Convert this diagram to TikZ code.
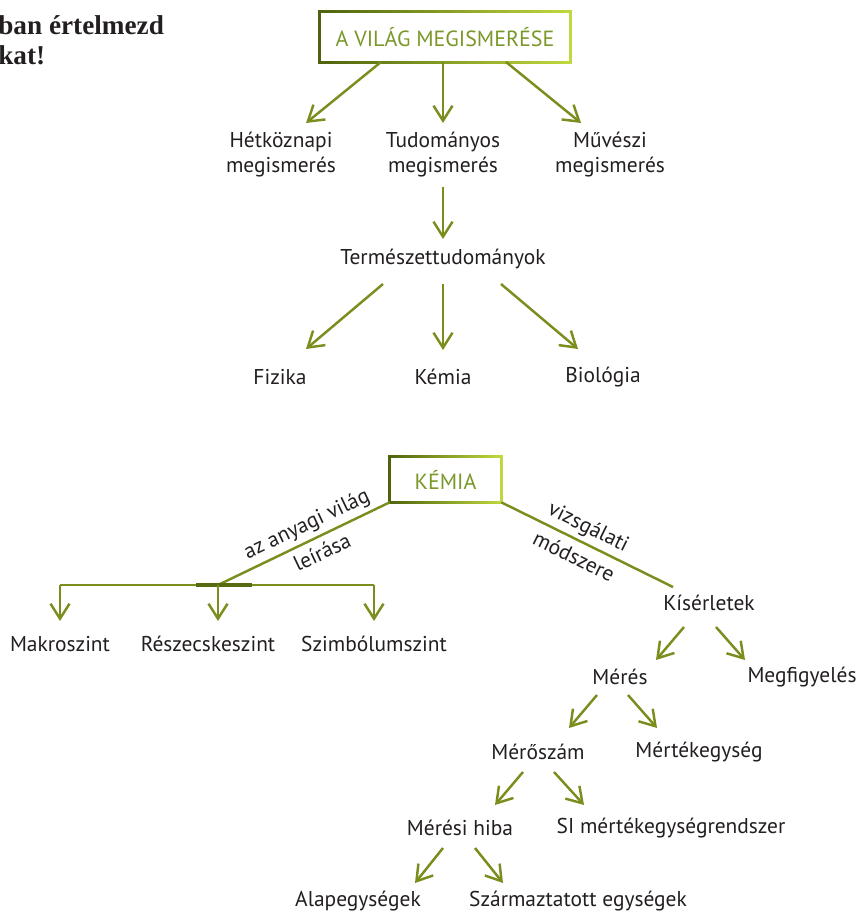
\documentclass[tikz,border=0pt]{standalone}
\usepackage{fontspec}
\setmainfont{PT Sans}
\newfontfamily\headfont{Liberation Serif}
\usetikzlibrary{arrows.meta,calc,backgrounds}
\definecolor{arrgreen}{RGB}{122,142,30}
\definecolor{boxtext}{RGB}{122,152,42}
\definecolor{gdark}{RGB}{78,98,12}
\definecolor{glight}{RGB}{192,218,62}
\definecolor{txt}{RGB}{35,31,32}
\tikzset{
  lbl/.style={font=\fontsize{12.2}{14.2}\selectfont, text=txt, align=center, inner sep=0pt},
  headbox/.style={font=\fontsize{12.5}{15}\selectfont, text=boxtext, inner sep=0pt},
  arr/.style={draw=arrgreen, line width=1.4pt, -{Straight Barb[length=3mm,width=3.8mm]}},
  bar/.style={draw=arrgreen, line width=1.4pt},
}
\begin{document}
\begin{tikzpicture}[x=0.02cm,y=-0.02cm]
    \useasboundingbox (0,0) rectangle (858,911);
    % heading text, cut at the left edge
    \node[anchor=west, align=left, inner sep=0pt, text=txt, font=\headfont\bfseries\fontsize{15.5}{17}\selectfont] (task) at (-2,40) {ban értelmezd\\kat!};
    % upper tree
    \node[headbox, minimum width=5cm, minimum height=1cm] (world) at (445,37) {A VILÁG MEGISMERÉSE};
    \node[lbl] (hetkoz) at (281,155) {Hétköznapi\\megismerés};
    \node[lbl] (tudom) at (443,155) {Tudományos\\megismerés};
    \node[lbl] (muv) at (610,155) {Művészi\\megismerés};
    \node[lbl] (termtud) at (443,259) {Természettudományok};
    \node[lbl] (fiz) at (280,377) {Fizika};
    \node[lbl] (kem) at (443,377) {Kémia};
    \node[lbl] (bio) at (603,377) {Biológia};
    \draw[arr] ($(world)+(-64,25)$) -- ($(hetkoz)+(25,-32)$);
    \draw[arr] ($(world)+(-2,25)$) -- ($(tudom)+(0,-32)$);
    \draw[arr] ($(world)+(61,25)$) -- ($(muv)+(-29,-32)$);
    \draw[arr] ($(tudom)+(0,32)$) -- ($(termtud)+(0,-20)$);
    \draw[arr] ($(termtud)+(-60,25)$) -- ($(fiz)+(26,-28)$);
    \draw[arr] ($(termtud)+(0,25)$) -- ($(kem)+(0,-27)$);
    \draw[arr] ($(termtud)+(58,25)$) -- ($(bio)+(-25,-28)$);
    % lower tree
    \node[headbox, minimum width=2.22cm, minimum height=0.9cm] (kemia) at (445.5,479.5) {KÉMIA};
    \coordinate (hub) at (218,585);
    \node[lbl] (makro) at (60,644) {Makroszint};
    \node[lbl] (reszecske) at (208,644) {Részecskeszint};
    \node[lbl] (szimb) at (374,644) {Szimbólumszint};
    \node[lbl] (kiserl) at (709,603) {Kísérletek};
    \node[lbl] (meres) at (620,677) {Mérés};
    \node[lbl] (megfigy) at (802,677) {Megfigyelés};
    \node[lbl] (meroszam) at (538,752) {Mérőszám};
    \node[lbl] (mertek) at (699,752) {Mértékegység};
    \node[lbl] (merhiba) at (460,828) {Mérési hiba};
    \node[lbl] (si) at (671,828) {SI mértékegységrendszer};
    \node[lbl] (alap) at (358,901) {Alapegységek};
    \node[lbl] (szarm) at (578,901) {Származtatott egységek};
    \draw[bar] (kemia.south west) -- (hub);
    \draw[bar] (kemia.south east) -- ($(kiserl)+(-36,-16)$);
    \node[lbl, rotate=25.4] (anyag) at (307,525) {az anyagi világ};
    \node[lbl, rotate=25.4] (leiras) at (322,552) {leírása};
    \node[lbl, rotate=-26.2] (vizsg) at (588,528) {vizsgálati};
    \node[lbl, rotate=-26.2] (modsz) at (574,556) {módszere};
    \draw[bar] (makro |- hub) -- (szimb |- hub);
    \draw[draw=gdark!80!arrgreen, line width=2.6pt] ($(hub)+(-22,0)$) -- ($(hub)+(34,0)$);
    \draw[arr] (makro |- hub) -- ($(makro)+(0,-23)$);
    \draw[arr] (hub) -- ($(reszecske)+(10,-23)$);
    \draw[arr] (szimb |- hub) -- ($(szimb)+(0,-23)$);
    \draw[arr] ($(kiserl)+(-25,24)$) -- ($(meres)+(36,-17)$);
    \draw[arr] ($(kiserl)+(7,24)$) -- ($(megfigy)+(-57,-17)$);
    \draw[arr] ($(meres)+(-23,18)$) -- ($(meroszam)+(31,-24)$);
    \draw[arr] ($(meres)+(8,18)$) -- ($(mertek)+(-42,-24)$);
    \draw[arr] ($(meroszam)+(-15,20)$) -- ($(merhiba)+(35,-23)$);
    \draw[arr] ($(meroszam)+(16,20)$) -- ($(si)+(-87,-23)$);
    \draw[arr] ($(merhiba)+(-17,20)$) -- ($(alap)+(57,-18)$);
    \draw[arr] ($(merhiba)+(15,20)$) -- ($(szarm)+(-75,-18)$);
    % gradient frames of the two boxes
    \begin{scope}[on background layer]
        \foreach \b in {world,kemia} {
            \shade[left color=gdark, right color=glight] ($(\b.south west)+(-1.6,1.6)$) rectangle ($(\b.north east)+(1.6,-1.6)$);
            \fill[white] ($(\b.south west)+(1.6,-1.6)$) rectangle ($(\b.north east)+(-1.6,1.6)$);
        }
    \end{scope}
\end{tikzpicture}
\end{document}
